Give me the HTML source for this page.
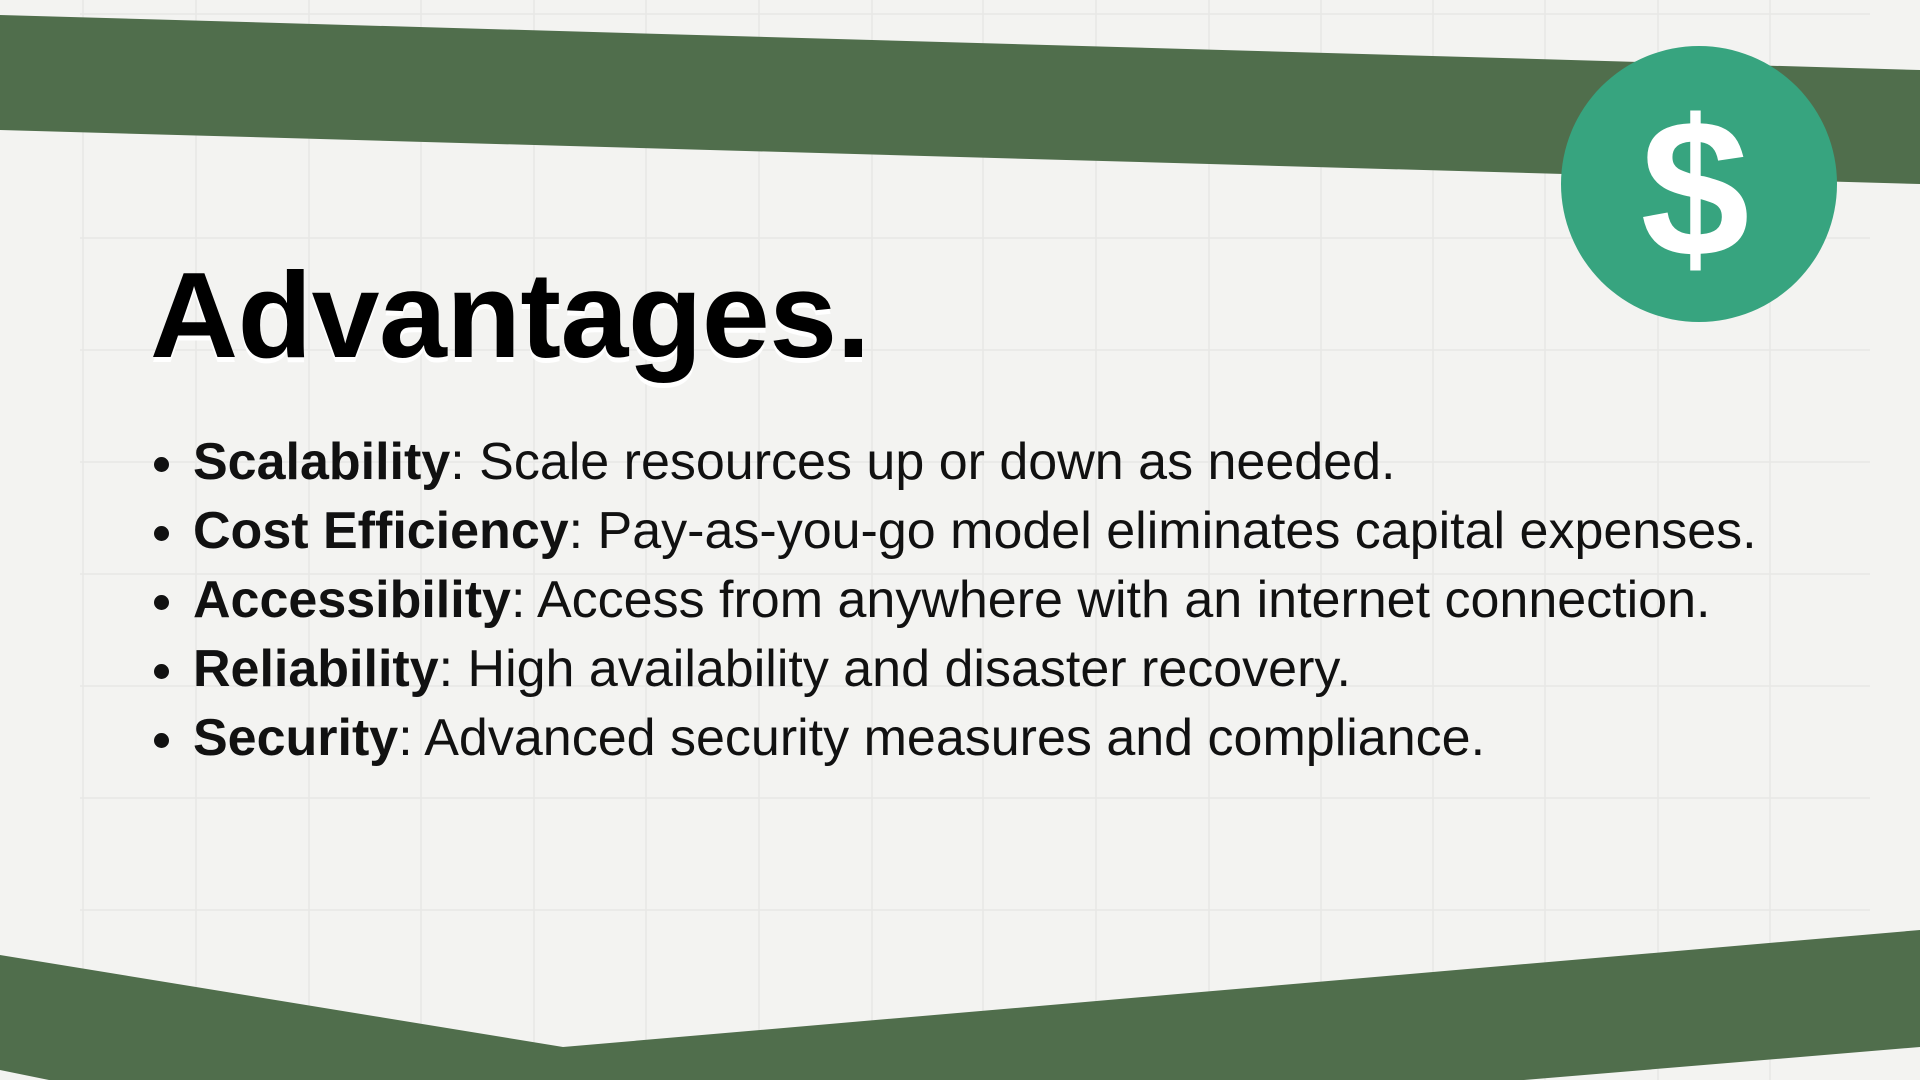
<!DOCTYPE html>
<html><head><meta charset="utf-8"><style>
html,body{margin:0;padding:0}
body{width:1920px;height:1080px;overflow:hidden;background:#f3f3f1;position:relative;font-family:"Liberation Sans",sans-serif}
svg.bg{position:absolute;left:0;top:0}
h1{position:absolute;left:150px;top:254px;margin:0;font-size:122px;font-weight:bold;color:#000;line-height:1;text-shadow:0 5px 0 #fff;letter-spacing:-0.5px}
ul{position:absolute;left:150px;top:428px;margin:0;padding:0;list-style:none}
li{position:relative;padding-left:43px;font-size:52px;line-height:69px;color:#111;white-space:nowrap}
li::before{content:"";position:absolute;left:4px;top:29px;width:15px;height:15px;border-radius:50%;background:#111}
b{font-weight:bold}
</style></head><body>
<svg class="bg" width="1920" height="1080">
<g stroke="#e8e8e6" stroke-width="1.5">
<line x1="83" y1="0" x2="83" y2="1080"/><line x1="196" y1="0" x2="196" y2="1080"/><line x1="309" y1="0" x2="309" y2="1080"/><line x1="421" y1="0" x2="421" y2="1080"/><line x1="534" y1="0" x2="534" y2="1080"/><line x1="646" y1="0" x2="646" y2="1080"/><line x1="759" y1="0" x2="759" y2="1080"/><line x1="872" y1="0" x2="872" y2="1080"/><line x1="983" y1="0" x2="983" y2="1080"/><line x1="1096" y1="0" x2="1096" y2="1080"/><line x1="1209" y1="0" x2="1209" y2="1080"/><line x1="1321" y1="0" x2="1321" y2="1080"/><line x1="1433" y1="0" x2="1433" y2="1080"/><line x1="1545" y1="0" x2="1545" y2="1080"/><line x1="1658" y1="0" x2="1658" y2="1080"/><line x1="1770" y1="0" x2="1770" y2="1080"/>
<line x1="80" y1="14" x2="1870" y2="14"/><line x1="80" y1="238" x2="1870" y2="238"/><line x1="80" y1="350" x2="1870" y2="350"/><line x1="80" y1="462" x2="1870" y2="462"/><line x1="80" y1="574" x2="1870" y2="574"/><line x1="80" y1="686" x2="1870" y2="686"/><line x1="80" y1="798" x2="1870" y2="798"/><line x1="80" y1="910" x2="1870" y2="910"/>
</g>
<polygon points="0,15 1920,70 1920,184 0,130" fill="#506e4c"/>
<polygon points="0,955 563,1047 1920,930 1920,1047 1524,1080 49,1080 0,1070" fill="#506e4c"/>
<circle cx="1699" cy="184" r="138" fill="#37a47f"/>
<text x="1695" y="256" text-anchor="middle" font-family="Liberation Sans" font-weight="bold" font-size="196" fill="#fff">$</text>
</svg>
<h1>Advantages.</h1>
<ul>
<li><b>Scalability</b>: Scale resources up or down as needed.</li>
<li><b>Cost Efficiency</b>: Pay-as-you-go model eliminates capital expenses.</li>
<li><b>Accessibility</b>: Access from anywhere with an internet connection.</li>
<li><b>Reliability</b>: High availability and disaster recovery.</li>
<li><b>Security</b>: Advanced security measures and compliance.</li>
</ul>
</body></html>
